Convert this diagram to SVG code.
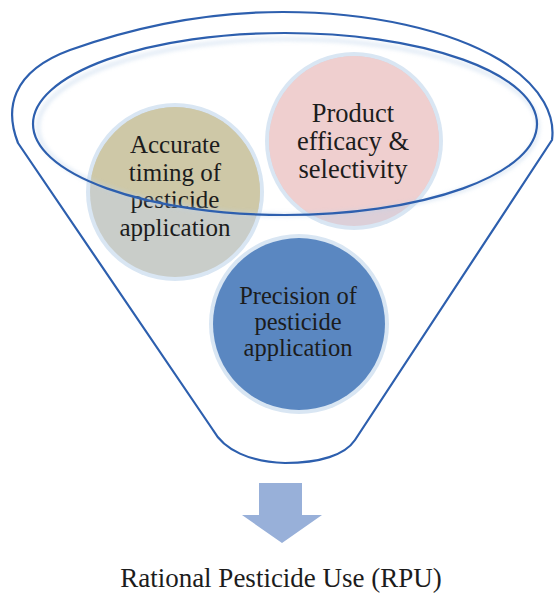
<svg xmlns="http://www.w3.org/2000/svg" width="555" height="594" viewBox="0 0 555 594">
  <defs>
    <style>
      .rim { fill: none; stroke: #2d5fae; stroke-width: 2.2; stroke-linejoin: round; }
      .halo { fill: #d9e6f3; }
      .lbl { font-family: "Liberation Serif", "Times New Roman", serif; fill: #1c1c1c; text-anchor: middle; }
    </style>
    <clipPath id="inEll">
      <ellipse cx="285" cy="124" rx="252" ry="91"/>
    </clipPath>
    <filter id="soft" x="-10%" y="-10%" width="120%" height="120%">
      <feGaussianBlur stdDeviation="2"/>
    </filter>
  </defs>
  <rect width="555" height="594" fill="#ffffff"/>

  <g id="funnel">
    <path class="rim" d="M 18 143 C 5 110 10 72 70 50 C 140 25 210 12 283 12 C 370 12 450 30 500 60 C 545 88 555 118 552 140 L 355 440 C 345 455 320 463 285 463 C 250 462 224 450 213 430 Z"/>
  </g>

  <g id="node-timing">
    <circle class="halo" cx="175" cy="192" r="89"/>
    <circle cx="175" cy="192" r="85" fill="#c9cdc9"/>
    <circle cx="175" cy="192" r="85" fill="#cec8a7" clip-path="url(#inEll)"/>
    <text class="lbl" font-size="25" x="175" y="153">Accurate</text>
    <text class="lbl" font-size="25" x="175" y="181">timing of</text>
    <text class="lbl" font-size="25" x="175" y="208">pesticide</text>
    <text class="lbl" font-size="25" x="175" y="236">application</text>
  </g>

  <g id="node-efficacy">
    <circle class="halo" cx="354" cy="141" r="89"/>
    <circle cx="354" cy="141" r="85" fill="#dccfd8"/>
    <circle cx="354" cy="141" r="85" fill="#efcfcf" clip-path="url(#inEll)"/>
    <text class="lbl" font-size="26.5" x="353" y="122">Product</text>
    <text class="lbl" font-size="26.5" x="353" y="150">efficacy &amp;</text>
    <text class="lbl" font-size="26.5" x="353" y="178">selectivity</text>
  </g>

  <g id="node-precision">
    <circle class="halo" cx="299" cy="324" r="90"/>
    <circle cx="299" cy="324" r="86" fill="#5a87c1"/>
    <text class="lbl" font-size="24.5" x="298" y="304">Precision of</text>
    <text class="lbl" font-size="24.5" x="298" y="330">pesticide</text>
    <text class="lbl" font-size="24.5" x="298" y="356">application</text>
  </g>

  <g id="rim-inner">
    <ellipse cx="288" cy="127" rx="250" ry="88" fill="none" stroke="#bdd2ea" stroke-width="3" opacity="0.6" filter="url(#soft)"/>
    <ellipse class="rim" cx="285" cy="124" rx="252" ry="91"/>
  </g>

  <g id="connectors">
    <path d="M 259 483 L 302 483 L 302 515 L 322 515 L 282 543 L 242 515 L 259 515 Z" fill="#98b0d9"/>
  </g>

  <g id="node-rpu">
    <text class="lbl" font-size="27" x="281" y="587">Rational Pesticide Use (RPU)</text>
  </g>
</svg>
